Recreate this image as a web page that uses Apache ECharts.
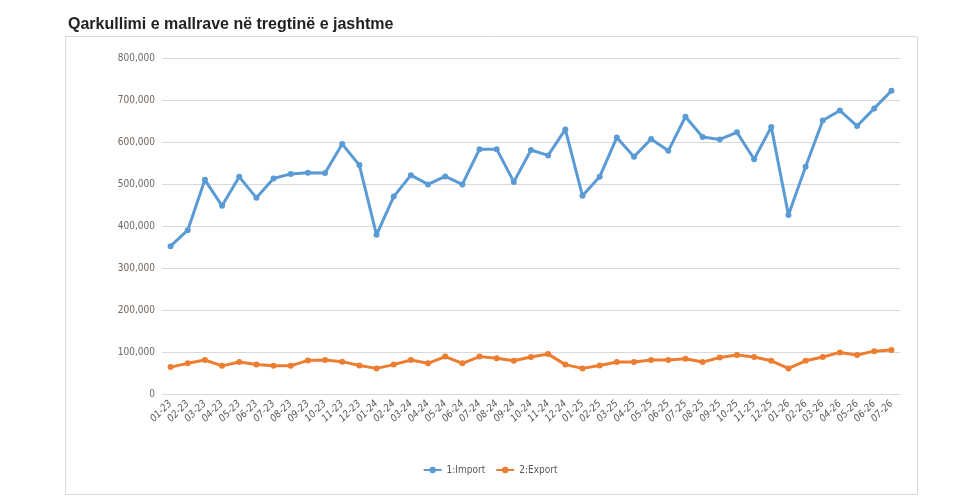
<!DOCTYPE html>
<html><head><meta charset="utf-8">
<script src="https://cdn.jsdelivr.net/npm/echarts@6/dist/echarts.min.js"></script>
<style>html,body{margin:0;padding:0;background:#fff}#c{width:980px;height:504px}</style>
</head><body><div id="c"></div>
<script>
var categories = ['01-23','02-23','03-23','04-23','05-23','06-23','07-23','08-23','09-23','10-23','11-23','12-23',
'01-24','02-24','03-24','04-24','05-24','06-24','07-24','08-24','09-24','10-24','11-24','12-24',
'01-25','02-25','03-25','04-25','05-25','06-25','07-25','08-25','09-25','10-25','11-25','12-25',
'01-26','02-26','03-26','04-26','05-26','06-26','07-26'];
var importValues = [352000,390000,510000,448000,517000,467000,513000,524000,527000,526000,595000,545000,
379000,470000,521000,499000,518000,499000,583000,583000,505000,581000,568000,630000,
472000,517000,611000,565000,607000,579000,660000,612000,606000,623000,559000,636000,
426000,541000,651000,675000,638000,680000,722000];
var exportValues = [64000,73000,81000,67000,76000,70000,67000,67000,80000,81000,77000,68000,
61000,70000,81000,73000,89000,73000,89000,85000,79000,88000,95000,70000,
61000,68000,76000,76000,81000,81000,84000,76000,87000,93000,88000,79000,
61000,79000,88000,99000,93000,102000,105000];
var seriesNames = ['1:Import','2:Export'];

var chart = echarts.init(document.getElementById('c'));
chart.setOption({
  animation:false,
  title:{text:'Qarkullimi e mallrave në tregtinë e jashtme',left:63,top:12,
    textStyle:{fontFamily:'Liberation Sans, Arial, sans-serif',fontWeight:'bold',fontSize:16,color:'#222'}},
  graphic:[{type:'rect',shape:{x:65.5,y:36.5,width:852,height:458},style:{fill:'none',stroke:'#d9d9d9',lineWidth:1},silent:true,z:-1}],
  legend:{bottom:24,left:'center',itemWidth:18,itemHeight:8,itemGap:10,
    textStyle:{fontSize:10,color:'#595959',fontFamily:'Liberation Sans Narrow, DejaVu Sans Condensed, sans-serif'},
    data:seriesNames},
  grid:{left:162,right:80,top:58,bottom:110,containLabel:false},
  xAxis:{type:'category',data:categories,boundaryGap:true,
    axisLine:{show:false},axisTick:{show:false},
    axisLabel:{rotate:45,interval:0,fontSize:10,color:'#595959',fontStyle:'italic',margin:8,
      fontFamily:'Liberation Sans Narrow, DejaVu Sans Condensed, sans-serif'}},
  yAxis:{type:'value',min:0,max:800000,interval:100000,
    axisLine:{show:false},axisTick:{show:false},
    splitLine:{lineStyle:{color:'#d9d9d9',width:1}},
    axisLabel:{fontSize:10,color:'#6e6660',margin:7,
      fontFamily:'Liberation Sans Narrow, DejaVu Sans Condensed, sans-serif',
      formatter:function(v){return v.toLocaleString('en-US');}}},
  series:[
    {name:seriesNames[0],type:'line',data:importValues,symbol:'circle',symbolSize:6,
      itemStyle:{color:'#5b9bd5'},lineStyle:{width:3,color:'#5b9bd5'}},
    {name:seriesNames[1],type:'line',data:exportValues,symbol:'circle',symbolSize:6,
      itemStyle:{color:'#ed7d31'},lineStyle:{width:3,color:'#ed7d31'}}
  ]
});
</script></body></html>
